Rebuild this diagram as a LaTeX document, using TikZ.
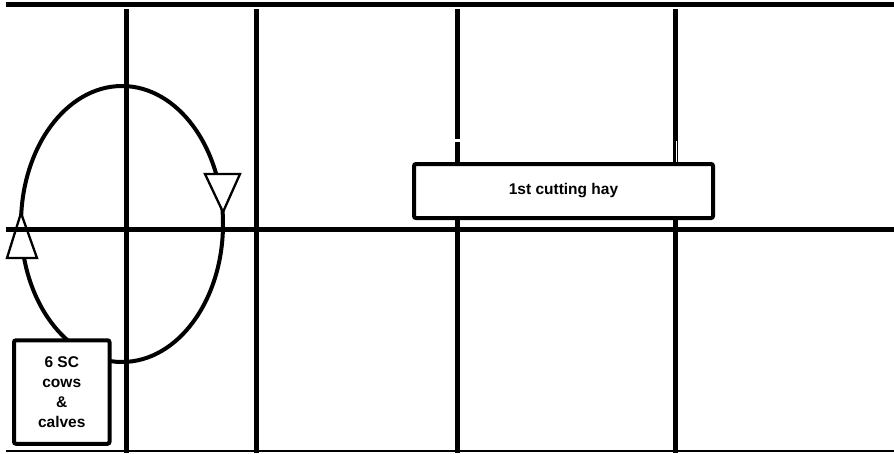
\documentclass[tikz,border=0pt]{standalone}
\usepackage{fontspec}
\setmainfont{Liberation Sans}
\begin{document}
\begin{tikzpicture}[x=1pt,y=-1pt,
  gridline/.style={line width=5pt},
  arrowtri/.style={draw, line width=2.3pt, fill=white, line join=miter},
  lbl/.style={draw, line width=4pt, fill=white, rounded corners=2pt,
    font=\bfseries\fontsize{15.5}{20}\selectfont, align=center, inner sep=0pt}]
\useasboundingbox (0,0) rectangle (894,453);
\fill[white] (0,0) rectangle (894,453);
% circulation loop
\draw[line width=4pt] (122,224) ellipse [x radius=101, y radius=138];
\draw[arrowtri] (21,213) -- (7,258) -- (37,258) -- cycle;
\draw[arrowtri] (205,174) -- (240,174) -- (223,212) -- cycle;
% grid
\draw[gridline] (6,4.5) -- (894,4.5);
\draw[gridline] (6,229) -- (894,229);
\draw[line width=1.5pt] (6,451) -- (894,451);
\foreach \x in {126,256,457,675} {
  \draw[gridline] (\x,9) -- (\x,453);
}
\draw[white, line width=2.5pt] (453,140.5) -- (461,140.5);
\draw[white, line width=1pt] (676.5,141) -- (676.5,162);
% labels
\node[lbl, minimum width=95.5pt, minimum height=103.5pt] (herd) at (61.75,392) {6 SC\\cows\\\&\\calves};
\node[lbl, minimum width=299pt, minimum height=54pt] (hay) at (563.5,191) {1st cutting hay};
\end{tikzpicture}
\end{document}
